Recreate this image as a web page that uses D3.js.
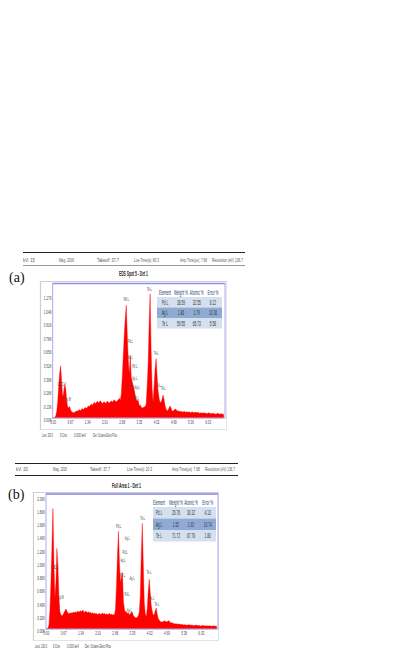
<!DOCTYPE html>
<html>
<head>
<meta charset="utf-8">
<script src="https://cdnjs.cloudflare.com/ajax/libs/d3/7.8.5/d3.min.js"></script>
<style>
  html, body { margin: 0; padding: 0; background: #fff; }
  text { font-family: "Liberation Sans", sans-serif; }
</style>
</head>
<body>
<div id="chart"></div>
<script>
// Data
var keVPerBin = 0.03866;
var energyTicks = [0, 0.67, 1.34, 2.01, 2.68, 3.35, 4.02, 4.69, 5.36, 6.03];

var countsA = [0,0,5,20,60,150,300,430,500,350,200,240,320,290,170,110,95,110,80,60,
  55,50,55,60,70,65,75,80,70,85,90,80,95,100,90,105,115,110,125,135,
  120,140,150,135,150,160,145,155,165,150,140,150,155,140,150,160,150,145,155,165,
  150,165,175,160,155,165,175,190,170,230,400,600,800,960,1080,800,560,420,600,390,
  350,310,270,220,175,165,170,120,125,105,95,100,105,110,130,300,520,900,1190,640,
  280,150,310,470,570,400,260,190,150,150,180,220,180,120,85,70,75,95,115,95,
  70,65,75,85,85,70,65,70,60,65,60,55,65,60,55,60,55,60,55,50,
  60,55,50,55,55,50,55,50,45,50,45,50,45,50,45,40,45,50,45,40,
  45,40,45,40,35,40,45,40,35,40,40,35,35];

var countsB = [0,0,15,60,300,700,1250,1815,1000,470,700,1215,950,500,260,220,195,210,240,270,
  300,275,240,230,245,235,250,240,255,245,260,250,270,255,265,275,260,285,265,250,
  270,255,245,260,240,250,235,245,230,240,225,235,220,230,235,220,230,240,225,235,
  220,230,215,225,235,215,225,210,220,210,300,650,1110,1470,1000,705,780,855,420,300,
  255,260,235,245,210,230,250,255,200,190,170,165,180,200,255,500,1100,1590,1000,405,
  230,180,300,560,750,560,360,270,210,215,270,315,230,160,135,115,105,105,110,125,
  120,105,110,125,120,100,90,95,85,80,75,80,75,70,75,70,65,70,65,60,
  65,60,55,60,65,60,55,60,55,50,55,60,55,50,55,50,45,50,55,50,
  45,50,45,50,45,50,45,40,45,50,40,45,40];

var yTicksA = [0, 130, 260, 390, 520, 650, 780, 910, 1040, 1170];
var yTicksB = [0, 200, 400, 600, 800, 1000, 1200, 1400, 1600, 1800, 2000];

var peakNamesA = ["Pd L","Pd L","Ag L","Pd L","Ag L","Pd L","Ag L","Pd L","O K","C K","Ag M","Te L","Te L","Te L","Te L"];
var peakEnergyA = [2.86,3.02,3.02,3.19,3.19,3.10,3.29,3.25,0.27,0.44,0.59,3.76,4.03,4.11,4.30];
var peakCountA = [1138,736,583,497,382,296,296,191,325,325,182,1233,621,315,287];

var peakNamesB = ["Pd L","Ag L","Pd L","Ag L","Pd L","Ag L","Pd L","Ag L","Te L","Te L","Te L","Te L","O K","C K","Ag M"];
var peakEnergyB = [2.83,3.17,3.08,3.00,2.98,3.35,3.16,3.25,3.76,4.02,4.12,4.32,0.28,0.41,0.57];
var peakCountB = [1556,1375,1160,1039,813,768,527,286,1676,858,467,377,938,938,486];

var tableHead = ["Element", "Weight %", "Atomic %", "Error %"];
var tableA = [["Pd L","38.59","32.55","6.12"],["Ag L","1.86","1.79","10.36"],["Te L","59.55","65.73","5.58"]];
var tableB = [["Pd L","26.76","30.32","4.13"],["Ag L","1.52","1.92","10.74"],["Te L","71.72","67.76","1.80"]];

var stripA = ["kV: 15","Mag: 2000","Takeoff: 37.7","Live Time(s): 80.3","Amp Time(\u03bcs): 7.68","Resolution (eV) 136.7"];
var stripB = ["kV: 20","Mag: 2000","Takeoff: 37.7","Live Time(s): 20.3","Amp Time(\u03bcs): 7.68","Resolution (eV) 136.7"];
var footerA = ["Lsec: 200.0","9 Cnts","0.000 keV","Det: Octane Elect Plus"];
var footerB = ["Lsec: 200.0","9 Cnts","0.000 keV","Det: Octane Elect Plus"];

var svg = d3.select("#chart").append("svg")
  .attr("width", 415)
  .attr("height", 654)
  .style("display", "block");

// text in the picture is squashed sideways, keep the height and narrow the glyphs
function squeeze(sel, factor) {
  sel.each(function() {
    var x = +this.getAttribute("x") || 0;
    d3.select(this).attr("transform", `translate(${x}, 0) scale(${factor}, 1) translate(${-x}, 0)`);
  });
}

// same thing, but squash to a target width in pixels
function squeezeTo(sel, widths) {
  sel.each(function(d, i) {
    var x = +this.getAttribute("x") || 0;
    var f = widths[i] / this.getComputedTextLength();
    d3.select(this).attr("transform", `translate(${x}, 0) scale(${f}, 1) translate(${-x}, 0)`);
  });
}

function drawPanel(p) {
  var g = svg.append("g");

  // header strip
  g.append("line").attr("x1", p.ruleX[0]).attr("x2", p.ruleX[1]).attr("y1", p.ruleY[0]).attr("y2", p.ruleY[0])
    .attr("stroke", "#222").attr("stroke-width", 1);
  g.append("line").attr("x1", p.ruleX[0]).attr("x2", p.ruleX[1]).attr("y1", p.ruleY[1]).attr("y2", p.ruleY[1])
    .attr("stroke", p.ruleColor).attr("stroke-width", 1);

  g.selectAll(".strip").data(p.strip).enter().append("text")
    .attr("class", "strip")
    .attr("x", (d, i) => p.stripX[i])
    .attr("y", p.stripY)
    .attr("font-size", 5.5)
    .attr("fill", "#555")
    .text(d => d)
    .call(squeezeTo, p.stripW);

  // (a) / (b)
  g.append("text")
    .attr("x", p.tag[0]).attr("y", p.tag[1])
    .attr("font-size", 14)
    .style("font-family", "'Liberation Serif', serif")
    .attr("fill", "#111")
    .text(p.tagText);

  // title
  g.append("text")
    .attr("x", p.titleX).attr("y", p.titleY)
    .attr("font-size", 6.5)
    .attr("font-weight", "bold")
    .attr("fill", "#222")
    .text(p.title)
    .call(squeezeTo, [p.titleW]);

  // grey outer frame
  g.append("rect")
    .attr("x", p.frame.x).attr("y", p.frame.y)
    .attr("width", p.frame.w).attr("height", p.frame.h)
    .attr("fill", "#fff").attr("stroke", "#e2e2e2").attr("stroke-width", 1);
  g.append("path")
    .attr("d", `M${p.frame.x},${p.frame.y + p.frame.h}V${p.frame.y}H${p.frame.x + p.frame.w}`)
    .attr("fill", "none").attr("stroke", "#cfcfcf").attr("stroke-width", 1.2);

  var xScale = d3.scaleLinear().domain([0, 6.7]).range([p.left, p.right]);
  var yScale = d3.scaleLinear().domain([0, p.yMax]).range([p.bottom, p.top]);

  var area = d3.area()
    .x((d, i) => xScale(i * keVPerBin))
    .y0(p.bottom)
    .y1(d => yScale(d))
    .curve(d3.curveLinear);

  g.append("path")
    .datum(p.counts)
    .attr("d", area)
    .attr("fill", "#ff0000")
    .attr("stroke", "#ff0000")
    .attr("stroke-width", 0.4);

  // plot border
  g.append("rect")
    .attr("x", p.left).attr("y", p.top)
    .attr("width", p.right - p.left).attr("height", p.bottom - p.top)
    .attr("fill", "none").attr("stroke", "#a9a9ee").attr("stroke-width", 1);
  g.append("line")
    .attr("x1", p.left).attr("x2", p.right).attr("y1", p.top).attr("y2", p.top)
    .attr("stroke", "#8f8fe8").attr("stroke-width", 1.5);

  // axes
  var bottomAxis = d3.axisBottom(xScale)
    .tickValues(energyTicks)
    .tickSize(0)
    .tickPadding(2)
    .tickFormat(d3.format(".2f"));
  var leftAxis = d3.axisLeft(yScale)
    .tickValues(p.yTicks)
    .tickSize(0)
    .tickPadding(1)
    .tickFormat(d => (d / 1000).toFixed(2) + "K");

  var xAxisG = g.append("g").attr("transform", `translate(0, ${p.bottom})`).call(bottomAxis);
  var yAxisG = g.append("g").attr("transform", `translate(${p.left}, 2)`).call(leftAxis);
  xAxisG.select(".domain").remove();
  yAxisG.select(".domain").remove();

  [xAxisG, yAxisG].forEach(function(a) {
    a.selectAll("text")
      .attr("font-size", 5.5)
      .attr("fill", "#444")
      .style("font-family", "'Liberation Sans', sans-serif")
      .call(squeeze, 0.55);
  });

  // peak labels
  g.selectAll(".peak").data(p.peakNames).enter().append("text")
    .attr("class", "peak")
    .attr("x", (d, i) => xScale(p.peakEnergy[i]))
    .attr("y", (d, i) => yScale(p.peakCount[i]))
    .attr("dy", "0.35em")
    .attr("text-anchor", "middle")
    .attr("font-size", 5)
    .attr("fill", "#444")
    .text(d => d)
    .call(squeeze, 0.5);

  // results table
  var t = p.table;
  var rowTop = [t.y, t.y + t.headH, t.y + t.headH + t.rowH, t.y + t.headH + 2 * t.rowH];
  g.selectAll(".rowBg").data(p.rows).enter().append("rect")
    .attr("class", "rowBg")
    .attr("x", t.x).attr("width", t.w)
    .attr("y", (d, i) => rowTop[i + 1])
    .attr("height", t.rowH)
    .attr("fill", (d, i) => i === 1 ? "#8fabd4" : "#d5e0ef");
  g.selectAll(".headText").data(tableHead).enter().append("text")
    .attr("class", "headText")
    .attr("x", (d, i) => t.cols[i])
    .attr("y", t.y + t.headH / 2)
    .attr("dy", "0.35em")
    .attr("text-anchor", "middle")
    .attr("font-size", 6.5)
    .attr("fill", "#1f3a6e")
    .text(d => d)
    .call(squeeze, 0.5);
  p.rows.forEach(function(row, r) {
    g.selectAll(".cell" + r).data(row).enter().append("text")
      .attr("class", "cell" + r)
      .attr("x", (d, i) => t.cols[i])
      .attr("y", rowTop[r + 1] + t.rowH / 2)
      .attr("dy", "0.35em")
      .attr("text-anchor", "middle")
      .attr("font-size", 6.5)
      .attr("fill", "#333")
      .text(d => d)
      .call(squeeze, 0.5);
  });

  // footer
  g.selectAll(".foot").data(p.footer).enter().append("text")
    .attr("class", "foot")
    .attr("x", (d, i) => p.footX[i])
    .attr("y", p.footY)
    .attr("font-size", 5.5)
    .attr("fill", "#444")
    .text(d => d)
    .call(squeezeTo, p.footW);
}

drawPanel({
  counts: countsA, yMax: 1290, yTicks: yTicksA,
  peakNames: peakNamesA, peakEnergy: peakEnergyA, peakCount: peakCountA,
  rows: tableA, strip: stripA, footer: footerA,
  title: "EDS Spot 5 - Det 1", tagText: "(a)",
  left: 52.7, right: 225, top: 283.5, bottom: 418,
  frame: { x: 40.5, y: 281.5, w: 186, h: 148 },
  ruleX: [23, 245], ruleY: [252.5, 265.5], ruleColor: "#999",
  stripX: [23, 59, 97, 134, 180, 212], stripW: [12, 15, 22, 25, 27, 31], stripY: 262,
  tag: [9, 282], titleX: 119, titleY: 276, titleW: 29,
  table: { x: 157, y: 289, w: 65, headH: 8, rowH: 10.5, cols: [165, 181, 196.7, 213] },
  footX: [42, 60, 74, 93], footW: [11, 7, 12, 24], footY: 437
});

drawPanel({
  counts: countsB, yMax: 2035, yTicks: yTicksB,
  peakNames: peakNamesB, peakEnergy: peakEnergyB, peakCount: peakCountB,
  rows: tableB, strip: stripB, footer: footerB,
  title: "Full Area 1 - Det 1", tagText: "(b)",
  left: 46, right: 218, top: 494, bottom: 629,
  frame: { x: 33.5, y: 492.5, w: 185, h: 148 },
  ruleX: [15, 238], ruleY: [463.5, 475.5], ruleColor: "#222",
  stripX: [16, 53, 90, 127, 172, 205], stripW: [12, 14, 20, 25, 28, 30], stripY: 471,
  tag: [8, 499], titleX: 112, titleY: 488.5, titleW: 29,
  table: { x: 153, y: 498, w: 63, headH: 9, rowH: 11.5, cols: [159, 176, 191, 207.7] },
  footX: [35, 53, 67, 85], footW: [12, 7, 12, 26], footY: 648
});
</script>
</body>
</html>
